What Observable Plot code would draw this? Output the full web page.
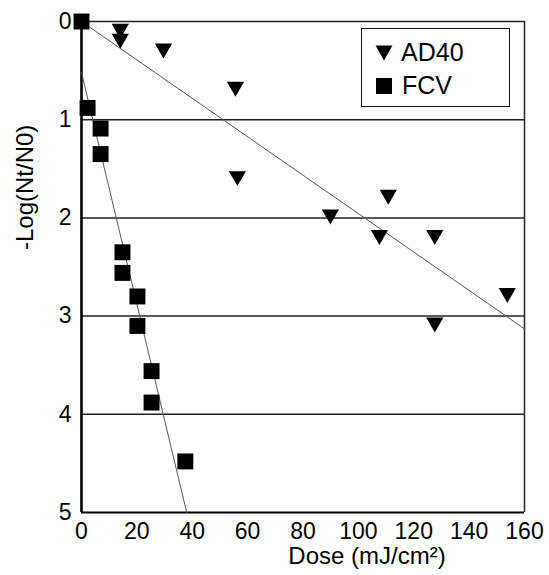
<!DOCTYPE html>
<html>
<head>
<meta charset="utf-8">
<script src="https://cdn.jsdelivr.net/npm/d3@7"></script>
<script src="https://cdn.jsdelivr.net/npm/@observablehq/plot@0.6"></script>
<style>
  html, body { margin: 0; padding: 0; background: #fff; }
  #wrap { position: relative; width: 549px; height: 575px; font-family: "Liberation Sans", Arial, sans-serif; }
  #legend { position: absolute; left: 361px; top: 28px; width: 147px; height: 77px; border: 1.5px solid #111; background: #fff; }
  .row { position: absolute; left: 0; display: flex; align-items: center; font-size: 25px; line-height: 25px; color: #000; }
  .row svg { display: block; }
</style>
</head>
<body>
<div id="wrap"></div>
<script>
// ---- data ----
const seriesNames = ["AD40", "FCV"];
const ad40Dose = [14, 14, 29.6, 55.6, 56.3, 89.9, 107.6, 110.8, 127.6, 127.6, 153.8];
const ad40LogRed = [0.10, 0.20, 0.30, 0.69, 1.60, 1.99, 2.20, 1.79, 2.20, 3.09, 2.79];
const fcvDose = [0, 2.2, 6.9, 6.9, 14.8, 14.8, 20.2, 20.2, 25.3, 25.3, 37.5];
const fcvLogRed = [0, 0.88, 1.09, 1.35, 2.35, 2.56, 2.80, 3.10, 3.56, 3.88, 4.48];
const ad40FitDose = [0, 160];
const ad40FitLogRed = [0, 3.13];
const fcvFitDose = [0, 38];
const fcvFitLogRed = [0.52, 5];
const xTicks = [0, 20, 40, 60, 80, 100, 120, 140, 160];
const yTicks = [0, 1, 2, 3, 4, 5];
const gridValues = [1, 2, 3, 4];
const xTitle = "Dose (mJ/cm²)";
const yTitle = "-Log(Nt/N0)";

const ad40 = ad40Dose.map((d, i) => ({dose: d, logr: ad40LogRed[i]}));
const fcv = fcvDose.map((d, i) => ({dose: d, logr: fcvLogRed[i]}));
const ad40Fit = ad40FitDose.map((d, i) => ({dose: d, logr: ad40FitLogRed[i]}));
const fcvFit = fcvFitDose.map((d, i) => ({dose: d, logr: fcvFitLogRed[i]}));

// down-pointing triangle, centred on its bounding box
const triangleDown = {
  draw(context, size) {
    const s = Math.sqrt(size);
    const a = 0.76 * s, h = 1.32 * s;
    context.moveTo(-a, -h / 2);
    context.lineTo(a, -h / 2);
    context.lineTo(0, h / 2);
    context.closePath();
  }
};

const chart = Plot.plot({
  width: 549,
  height: 575,
  marginLeft: 81,
  marginRight: 25,
  marginTop: 21,
  marginBottom: 63,
  style: {fontFamily: "'Liberation Sans', Arial, sans-serif", fontSize: "23px", color: "#000", background: "#fff"},
  x: {domain: [0, 160]},
  y: {domain: [0, 5], reverse: true},
  marks: [
    Plot.ruleY(gridValues, {stroke: "#222", strokeWidth: 1.5}),
    Plot.ruleY([0], {stroke: "#222", strokeWidth: 1.5}),
    Plot.ruleX([160], {stroke: "#222", strokeWidth: 1.5}),
    Plot.ruleY([5], {stroke: "#000", strokeWidth: 2.2}),
    Plot.ruleX([0], {stroke: "#000", strokeWidth: 2.6}),
    Plot.line(ad40Fit, {x: "dose", y: "logr", stroke: "#555", strokeWidth: 1}),
    Plot.line(fcvFit, {x: "dose", y: "logr", stroke: "#555", strokeWidth: 1}),
    Plot.dot(ad40, {x: "dose", y: "logr", symbol: triangleDown, r: 6.4, fill: "#000", stroke: "none"}),
    Plot.dot(fcv, {x: "dose", y: "logr", symbol: "square", r: 9, fill: "#000", stroke: "none"}),
    Plot.axisX({ticks: xTicks, tickFormat: "d", tickSize: 0, tickPadding: 10, label: null, fontSize: 23}),
    Plot.axisY({ticks: yTicks, tickFormat: "d", tickSize: 0, tickPadding: 10, label: null, fontSize: 23}),
    Plot.text([xTitle], {text: d => d, frameAnchor: "bottom", dx: 64, dy: 51, fontSize: 24}),
    Plot.text([yTitle], {text: d => d, frameAnchor: "left", rotate: -90, dx: -56, dy: -17, fontSize: 24})
  ]
});

const wrap = document.getElementById("wrap");
wrap.appendChild(chart);

// legend (inside plot area, HTML overlay)
const legend = document.createElement("div");
legend.id = "legend";
const syms = [
  '<svg width="20" height="18"><path d="M1.5,1.5 L18.5,1.5 L10,16.5 Z" fill="#000"/></svg>',
  '<svg width="20" height="18"><rect x="2" y="1" width="16" height="16" fill="#000"/></svg>'
];
seriesNames.forEach((name, i) => {
  const row = document.createElement("div");
  row.className = "row";
  row.style.top = (i === 0 ? 11 : 44) + "px";
  row.style.left = "12px";
  row.innerHTML = syms[i] + '<span style="margin-left:' + (i === 0 ? 7 : 8) + 'px">' + name + '</span>';
  legend.appendChild(row);
});
wrap.appendChild(legend);
</script>
</body>
</html>
